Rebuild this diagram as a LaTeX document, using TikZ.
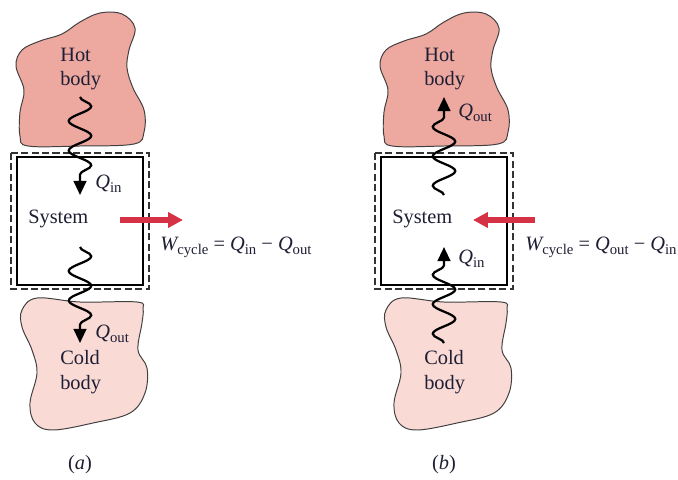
\documentclass[tikz,border=0pt]{standalone}
\usepackage{fontspec}
\setmainfont{Liberation Serif}
\usetikzlibrary{arrows.meta, positioning, decorations.pathmorphing}
\definecolor{hotpink}{RGB}{237,168,160}
\definecolor{coldpink}{RGB}{249,218,213}
\definecolor{workred}{RGB}{214,50,70}
\definecolor{inknavy}{RGB}{30,30,52}
\newcommand{\lowsub}[1]{\raisebox{-2.8pt}{\fontsize{10.5}{10.5}\selectfont #1}}
\newcommand{\heatQ}[1]{{\itshape Q}\lowsub{#1}}

\begin{document}
\begin{tikzpicture}[x=0.025cm, y=-0.025cm,
    hotbody/.style={fill=hotpink, draw=black!75, line width=0.7pt},
    coldbody/.style={fill=coldpink, draw=black!75, line width=0.7pt},
    sysbox/.style={draw=black, line width=0.9pt},
    envline/.style={draw=black!80, line width=0.8pt, dash pattern=on 5pt off 2.4pt},
    txt/.style={font=\fontsize{14.5}{17.7}\selectfont, text=inknavy, inner sep=0pt},
    bodylabel/.style={txt, align=left, anchor=west},
    qlabel/.style={txt, anchor=west},
    heatflow/.style={line width=1.6pt, -{Triangle[length=10pt,width=9pt]},
        decorate, decoration={snake, segment length=21pt, amplitude=8pt, post length=9pt}},
    workarrow/.style={workred, line width=4.6pt, -{Triangle[length=10.6pt,width=10.6pt]}}]
    \useasboundingbox (0,0) rectangle (678,480);

    % both panels share the bodies, the system boundary and the anchor points
    \foreach \dx/\p in {0/a, 364/b} {
        \begin{scope}[shift={(\dx,0)}]
            \filldraw[hotbody] plot[smooth cycle, tension=0.6] coordinates {
                (16,66) (22,50) (40,41) (62,34) (80,22) (100,13) (122,14) (135,28)
                (129,50) (127,68) (133,88) (144,110) (144,132) (134,144) (80,146)
                (28,146) (20,136) (20,112) (24,90)};
            \filldraw[coldbody] plot[smooth cycle, tension=0.6] coordinates {
                (22,310) (37,298) (80,302) (137,302) (143,309) (142,323) (138,350)
                (147,368) (145,393) (130,413) (93,423) (53,430) (35,423) (30,403)
                (37,373) (32,350) (22,327)};
            \draw[envline] (11,153) rectangle (149,289);
            \draw[sysbox] (17,157) rectangle (143,285);

            \node[bodylabel] (hot-\p) at (60,69) {Hot\\body};
            \node[bodylabel] (cold-\p) at (60,372) {Cold\\body};
            \node[qlabel] (sys-\p) at (28,219) {System};
            \node[txt] (cap-\p) at (80,465) {(\textit{\p})};

            \coordinate (top-\p) at (80,97);
            \coordinate (mid1-\p) at (80,195);
            \coordinate (mid2-\p) at (80,247);
            \coordinate (low-\p) at (80,343);
        \end{scope}
    }

    % (a) heat engine
    \draw[heatflow] (top-a) -- (mid1-a);
    \draw[heatflow] (mid2-a) -- (low-a);
    \node[qlabel] (qin-a) at (95,184) {\heatQ{in}};
    \node[qlabel] (qout-a) at (95,334) {\heatQ{out}};
    \coordinate (wstart-a) at (120,220);
    \coordinate (wtip-a) at (183,220);
    \draw[workarrow] (wstart-a) -- (wtip-a);
    \node[qlabel] (eq-a) at (160,247) {{\itshape W}\lowsub{cycle} = \heatQ{in} − \heatQ{out}};

    % (b) refrigeration / heat pump
    \draw[heatflow] (mid1-b) -- (top-b);
    \draw[heatflow] (low-b) -- (mid2-b);
    \node[qlabel] (qout-b) at (458,113) {\heatQ{out}};
    \node[qlabel] (qin-b) at (458,259) {\heatQ{in}};
    \coordinate (wstart-b) at (535,220);
    \coordinate (wtip-b) at (473,220);
    \draw[workarrow] (wstart-b) -- (wtip-b);
    \node[qlabel] (eq-b) at (525,247) {{\itshape W}\lowsub{cycle} = \heatQ{out} − \heatQ{in}};
\end{tikzpicture}
\end{document}
